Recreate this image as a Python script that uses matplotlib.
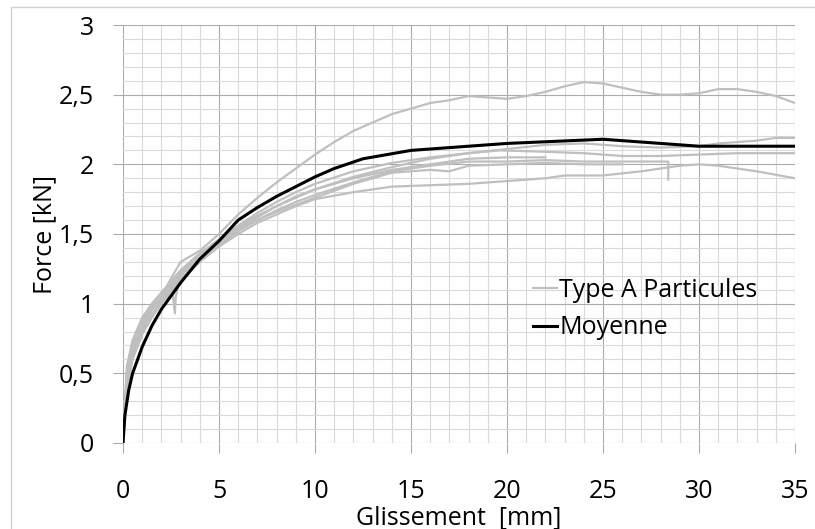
import matplotlib
matplotlib.use('Agg')
import matplotlib.pyplot as plt
from matplotlib.ticker import MultipleLocator, FuncFormatter
from matplotlib.patches import Rectangle

plt.rcParams['font.family'] = ['Open Sans', 'DejaVu Sans']

# specimens (gray curves): slip [mm] vs force [kN]
g1_x = [0, 0.2, 0.5, 1, 1.5, 2, 2.5, 3, 4, 5, 6, 7, 8, 9, 10, 11, 12, 13, 14, 15, 16, 17, 18, 19, 20,
        21, 22, 23, 24, 25, 26, 27, 28, 29, 30, 31, 32, 33, 34, 35]
g1_y = [0, 0.42, 0.62, 0.82, 0.95, 1.05, 1.18, 1.3, 1.38, 1.5, 1.64, 1.76, 1.87, 1.97, 2.07, 2.16, 2.24,
        2.3, 2.36, 2.4, 2.44, 2.46, 2.49, 2.48, 2.47, 2.49, 2.52, 2.56, 2.59, 2.58, 2.55, 2.52, 2.5, 2.5,
        2.51, 2.54, 2.54, 2.52, 2.49, 2.44]

g2_x = [0, 0.2, 0.5, 1, 1.5, 2, 3, 4, 5, 6, 7, 8, 9, 10, 12, 14, 16, 18, 20, 22, 24, 25, 26, 28, 30,
        31, 32, 33, 34, 35]
g2_y = [0, 0.5, 0.7, 0.88, 0.98, 1.06, 1.22, 1.35, 1.46, 1.56, 1.65, 1.73, 1.8, 1.86, 1.95, 2.01, 2.05,
        2.08, 2.11, 2.14, 2.15, 2.14, 2.13, 2.12, 2.13, 2.15, 2.16, 2.17, 2.19, 2.19]

g3_x = [0, 0.2, 0.5, 1, 1.5, 2, 3, 4, 5, 6, 7, 8, 9, 10, 12, 14, 16, 18, 19.6, 22, 24, 26, 28, 30, 32,
        34, 35]
g3_y = [0, 0.45, 0.66, 0.85, 0.96, 1.04, 1.2, 1.33, 1.44, 1.54, 1.62, 1.7, 1.77, 1.82, 1.91, 1.98, 2.04,
        2.08, 2.1, 2.09, 2.08, 2.06, 2.06, 2.07, 2.08, 2.08, 2.08]

g4_x = [0, 0.2, 0.5, 1, 1.5, 2, 3, 4, 5, 6, 7, 8, 9, 10, 12, 14, 16, 18, 20, 22, 24, 26, 28.4, 28.4]
g4_y = [0, 0.4, 0.62, 0.8, 0.92, 1.02, 1.18, 1.3, 1.42, 1.52, 1.6, 1.67, 1.73, 1.78, 1.87, 1.95, 1.99,
        2.02, 2.02, 2.03, 2.02, 2.02, 2.02, 1.89]

g5_x = [0, 0.2, 0.5, 1, 1.5, 2, 3, 4, 5, 6, 7, 8, 9, 10, 12, 14, 16, 17, 18, 20, 22, 24, 26]
g5_y = [0, 0.55, 0.74, 0.9, 1.0, 1.08, 1.24, 1.36, 1.45, 1.53, 1.6, 1.66, 1.71, 1.76, 1.86, 1.94, 1.96,
        1.95, 1.99, 2.0, 2.01, 2.0, 2.0]

g6_x = [0, 0.2, 0.5, 1, 1.5, 2, 3, 4, 5, 6, 7, 8, 9, 10, 12, 14, 16, 18, 20, 22, 23, 25, 27, 29, 30,
        31, 33, 35]
g6_y = [0, 0.38, 0.6, 0.78, 0.9, 1.0, 1.17, 1.3, 1.41, 1.5, 1.58, 1.64, 1.7, 1.75, 1.8, 1.84, 1.85,
        1.86, 1.88, 1.9, 1.92, 1.92, 1.95, 1.99, 2.0, 1.99, 1.95, 1.9]

g7_x = [0, 0.2, 0.5, 1, 1.5, 2, 2.6, 2.7, 2.75, 3, 3.5, 4, 5, 6, 7, 8, 9, 10, 12, 14, 16, 18, 20, 22]
g7_y = [0, 0.48, 0.68, 0.86, 0.97, 1.02, 1.06, 0.93, 1.05, 1.22, 1.3, 1.36, 1.46, 1.55, 1.63, 1.7,
        1.76, 1.82, 1.9, 1.96, 2.0, 2.04, 2.05, 2.05]

specimens = [(g1_x, g1_y), (g2_x, g2_y), (g3_x, g3_y), (g4_x, g4_y),
             (g5_x, g5_y), (g6_x, g6_y), (g7_x, g7_y)]

# mean curve
mean_x = [0, 0.1, 0.3, 0.5, 1, 1.5, 2, 3, 4, 5, 6, 7, 8, 9, 10, 11, 12.5, 15, 20, 25, 30, 35]
mean_y = [0, 0.2, 0.38, 0.5, 0.69, 0.84, 0.96, 1.15, 1.32, 1.45, 1.6, 1.69, 1.77, 1.84, 1.91, 1.97,
          2.04, 2.1, 2.15, 2.18, 2.13, 2.13]

fs = 18

fig = plt.figure(figsize=(8.15, 5.29), dpi=100)
ax = fig.add_axes([123 / 815, 86 / 529, 672 / 815, 418 / 529])

for i, (sx, sy) in enumerate(specimens):
    ax.plot(sx, sy, color='#BFBFBF', lw=1.6, label='Type A Particules' if i == 0 else None, zorder=3)
ax.plot(mean_x, mean_y, color='black', lw=2.2, label='Moyenne', zorder=4)

ax.set_xlim(0, 35)
ax.set_ylim(0, 3)
ax.xaxis.set_major_locator(MultipleLocator(5))
ax.xaxis.set_minor_locator(MultipleLocator(1))
ax.yaxis.set_major_locator(MultipleLocator(0.5))
ax.yaxis.set_minor_locator(MultipleLocator(0.1))
ax.yaxis.set_major_formatter(FuncFormatter(lambda v, p: ('%g' % v).replace('.', ',')))

ax.grid(which='major', color='#ABABAB', lw=0.8, zorder=1)
ax.grid(which='minor', color='#DADADA', lw=0.8, zorder=0)
ax.set_axisbelow(True)
for s in ax.spines.values():
    s.set_visible(False)

ax.tick_params(which='major', length=7, width=0.8, color='#ABABAB', labelsize=fs)
ax.tick_params(axis='y', which='major', pad=14)
ax.tick_params(axis='x', which='major', pad=19)
ax.tick_params(which='minor', length=0)

ax.set_xlabel('Glissement  [mm]', fontsize=fs)
ax.set_ylabel('Force [kN]', fontsize=fs)
ax.xaxis.set_label_coords(0.5, -0.148)
ax.yaxis.set_label_coords(-0.098, 0.5)

ax.legend(loc='upper left', bbox_to_anchor=(0.61, 0.395), frameon=False, fontsize=fs,
          handlelength=0.95, handletextpad=0.1, labelspacing=0.5, borderpad=0, borderaxespad=0)

fig.patches.append(Rectangle((11 / 815, -0.05), 1.1, 0.9868 + 0.05, transform=fig.transFigure,
                             fill=False, edgecolor='#D0D0D0', lw=1))

fig.savefig('out.png', dpi=100)
